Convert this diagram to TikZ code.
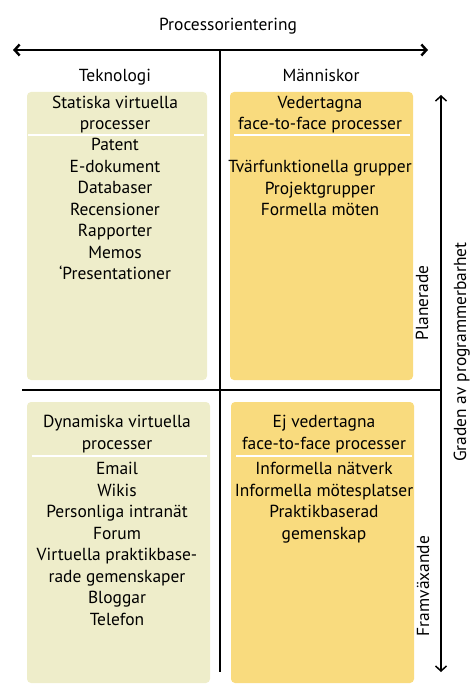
\documentclass[tikz,border=0pt]{standalone}
\usepackage{fontspec}
\setmainfont{PT Sans}
\usetikzlibrary{arrows.meta}
\definecolor{techfill}{RGB}{238,237,202}
\definecolor{humanfill}{RGB}{249,219,126}
\tikzset{
  lbl/.style={font=\fontsize{17.5}{21}\selectfont, inner sep=0pt, text height=15bp, text depth=4bp},
  vlbl/.style={font=\fontsize{17.5}{21}\selectfont, inner sep=0pt, text height=12bp, text depth=4bp, rotate=90},
  quad/.style={rounded corners=4bp},
  sep/.style={white, line width=1.3bp},
  barb/.tip={Straight Barb[length=5bp,width=11bp]},
  mainaxis/.style={line width=2.4bp, black},
  midaxis/.style={line width=2bp, black},
  gradeaxis/.style={line width=1.5bp, black},
}
\begin{document}
\begin{tikzpicture}[x=1bp,y=-1bp]
\useasboundingbox (0,0) rectangle (471,684);
% quadrant boxes
\fill[techfill, quad] (27,92) rectangle (207,380);
\fill[humanfill, quad] (230,92) rectangle (413,380);
\fill[techfill, quad] (27,402) rectangle (210,683);
\fill[humanfill, quad] (231,402) rectangle (414,683);
% separators
\draw[sep] (28,135) -- (204,135);
\draw[sep] (234,135) -- (410,135);
\draw[sep] (32,456) -- (207,456);
\draw[sep] (236,456) -- (412,456);
% axes
\coordinate (hl) at (13,50);
\coordinate (hr) at (428,50);
\coordinate (vt) at (220,50);
\coordinate (vb) at (220,672);
\coordinate (ml) at (22,390);
\coordinate (mr) at (441,390);
\coordinate (gt) at (441,95);
\coordinate (gb) at (441,672);
\draw[mainaxis, barb-barb] (hl) -- (hr);
\draw[midaxis] (vt) -- (vb);
\draw[midaxis] (ml) -- (mr);
\draw[gradeaxis, barb-barb] (gb) -- (gt);
% axis labels
\node[lbl] (title) at (228,25) {Processorientering};
\node[lbl] (tek) at (115,76) {Teknologi};
\node[lbl] (man) at (321,76) {Människor};
\node[vlbl] (plan) at (424,303) {Planerade};
\node[vlbl] (fram) at (425,586) {Framväxande};
\node[vlbl] (grad) at (462,352) {Graden av programmerbarhet};
% top-left
\foreach \t [count=\i] in {Statiska virtuella, processer}
  \node[lbl] (tlh\i) at (115,{103+21.5*(\i-1)}) {\t};
\foreach \t [count=\i] in {Patent, E-dokument, Databaser, Recensioner, Rapporter, Memos, {`Presentationer}}
  \node[lbl] (tli\i) at (115,{145+21.5*(\i-1)}) {\t};
% top-right
\foreach \t [count=\i] in {Vedertagna, face-to-face processer}
  \node[lbl] (trh\i) at (320,{103+21.5*(\i-1)}) {\t};
\foreach \t [count=\i] in {Tvärfunktionella grupper, Projektgrupper, Formella möten}
  \node[lbl] (tri\i) at (320,{167+21.5*(\i-1)}) {\t};
% bottom-left
\foreach \t [count=\i] in {Dynamiska virtuella, processer}
  \node[lbl] (blh\i) at (117,{422+21.5*(\i-1)}) {\t};
\foreach \t [count=\i] in {Email, Wikis, Personliga intranät, Forum, Virtuella praktikbase-, rade gemenskaper, Bloggar, Telefon}
  \node[lbl] (bli\i) at (117,{469+21.5*(\i-1)}) {\t};
% bottom-right
\foreach \t [count=\i] in {Ej vedertagna, face-to-face processer}
  \node[lbl] (brh\i) at (324,{422+21.5*(\i-1)}) {\t};
\foreach \t [count=\i] in {Informella nätverk, Informella mötesplatser, Praktikbaserad, gemenskap}
  \node[lbl] (bri\i) at (324,{469+21.5*(\i-1)}) {\t};
\end{tikzpicture}
\end{document}
